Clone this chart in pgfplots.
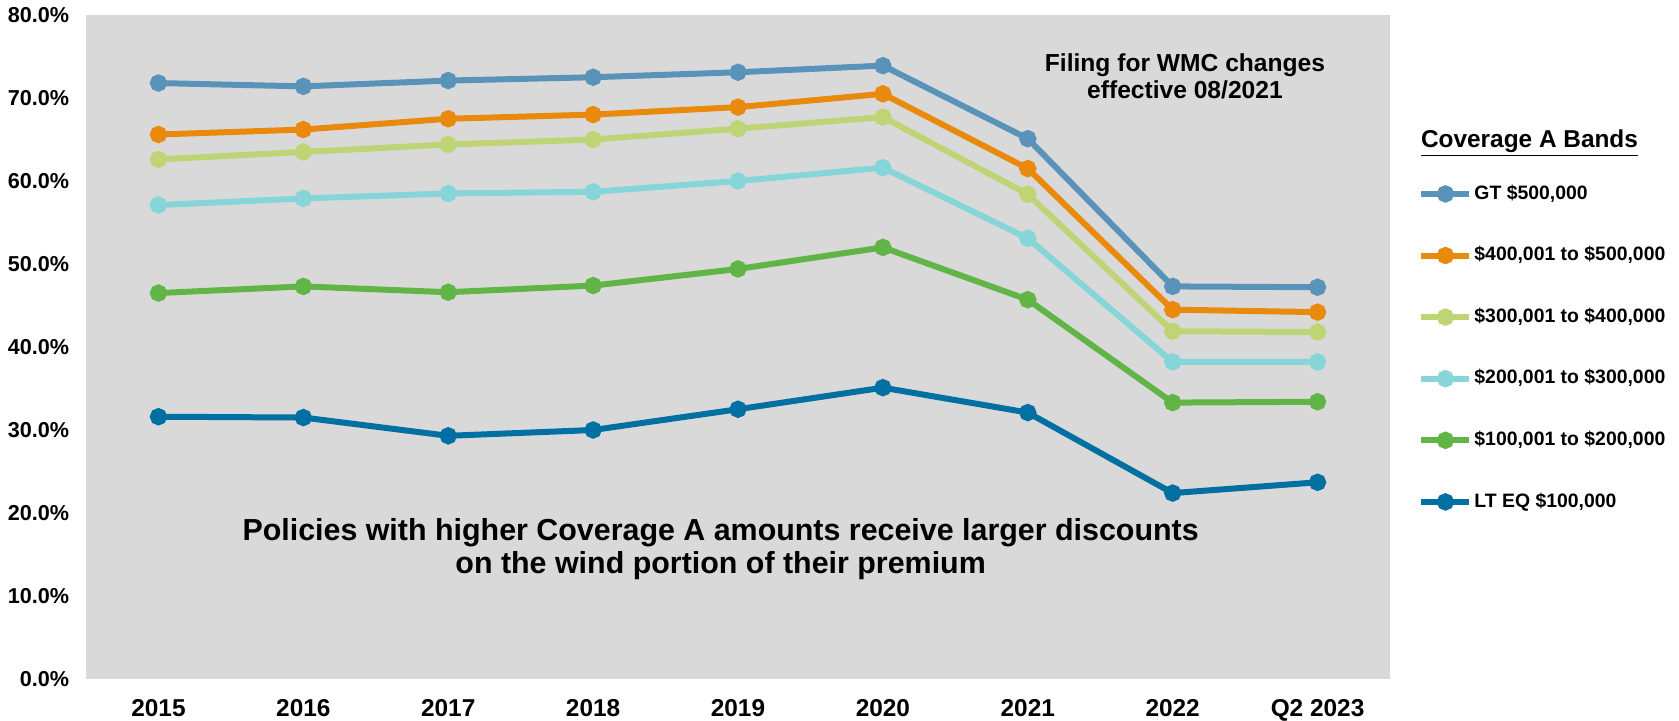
\documentclass[border=0pt]{standalone}
\usepackage{pgfplots}
\pgfplotsset{compat=1.18}
\usepackage{fontspec}
\setmainfont{Liberation Sans}
\definecolor{bggray}{HTML}{D9D9D9}
\definecolor{cGT}{HTML}{5A93BA}
\definecolor{cFour}{HTML}{E98A0D}
\definecolor{cThree}{HTML}{BFD475}
\definecolor{cTwo}{HTML}{86D5D9}
\definecolor{cOne}{HTML}{61B446}
\definecolor{cLT}{HTML}{0070A3}
\begin{document}
\begin{tikzpicture}
\useasboundingbox (-43pt,-21pt) rectangle (796.5pt,339.5pt);
\begin{axis}[
  at={(0,0)}, anchor=south west,
  scale only axis, width=652pt, height=332pt,
  xmin=-0.5, xmax=8.5, ymin=0, ymax=80,
  axis background/.style={fill=bggray},
  axis line style={draw=none},
  major tick length=0pt,
  xtick={0,...,8},
  xticklabels={2015,2016,2017,2018,2019,2020,2021,2022,Q2 2023},
  ytick={0,10,...,80},
  yticklabels={0.0\%,10.0\%,20.0\%,30.0\%,40.0\%,50.0\%,60.0\%,70.0\%,80.0\%},
  xticklabel style={font=\fontsize{12.2}{13}\selectfont\bfseries, inner sep=0pt, anchor=north, yshift=-10.2pt},
  yticklabel style={font=\fontsize{10.8}{12}\selectfont\bfseries, inner sep=0pt, anchor=east, xshift=-8.2pt},
  every axis plot/.append style={line width=3pt, mark=*, mark size=2.8pt, mark options={solid}},
  legend image code/.code={\draw[mark repeat=2,mark phase=2,#1] plot coordinates {(0pt,0pt)(12pt,0pt)(24pt,0pt)};},
  legend style={at={(1.0215,0.745)}, anchor=north west, draw=none, fill=none, inner sep=0pt,
    row sep=21.6pt, column sep=1pt,
    font=\fontsize{9.7}{10}\selectfont\bfseries,
    nodes={inner sep=0pt, text height=7.2pt, text depth=2pt}},
  legend cell align=left,
  clip=false,
]
\addplot[color=cGT] coordinates {(0,71.8)(1,71.4)(2,72.1)(3,72.5)(4,73.1)(5,73.9)(6,65.1)(7,47.3)(8,47.2)};
\addlegendentry{GT \$500,000}
\addplot[color=cFour] coordinates {(0,65.6)(1,66.2)(2,67.5)(3,68.0)(4,68.9)(5,70.5)(6,61.5)(7,44.5)(8,44.2)};
\addlegendentry{\$400,001 to \$500,000}
\addplot[color=cThree] coordinates {(0,62.6)(1,63.5)(2,64.4)(3,65.0)(4,66.3)(5,67.7)(6,58.4)(7,41.9)(8,41.8)};
\addlegendentry{\$300,001 to \$400,000}
\addplot[color=cTwo] coordinates {(0,57.1)(1,57.9)(2,58.5)(3,58.7)(4,60.0)(5,61.6)(6,53.1)(7,38.2)(8,38.2)};
\addlegendentry{\$200,001 to \$300,000}
\addplot[color=cOne] coordinates {(0,46.5)(1,47.3)(2,46.6)(3,47.4)(4,49.4)(5,52.0)(6,45.7)(7,33.3)(8,33.4)};
\addlegendentry{\$100,001 to \$200,000}
\addplot[color=cLT] coordinates {(0,31.6)(1,31.5)(2,29.3)(3,30.0)(4,32.5)(5,35.1)(6,32.1)(7,22.4)(8,23.7)};
\addlegendentry{LT EQ \$100,000}
\node[font=\fontsize{12.3}{13.5}\selectfont\bfseries, align=center] at (axis cs:7.085,72.6) {Filing for WMC changes\\effective 08/2021};
\node[font=\fontsize{15.2}{16.5}\selectfont\bfseries, align=center] at (axis cs:3.88,15.7) {Policies with higher Coverage A amounts receive larger discounts\\on the wind portion of their premium};
\node[anchor=west, inner sep=0pt, font=\fontsize{12.2}{13}\selectfont\bfseries] at (rel axis cs:1.0235,0.8065) {\underline{Coverage A Bands}};
\end{axis}
\end{tikzpicture}
\end{document}
